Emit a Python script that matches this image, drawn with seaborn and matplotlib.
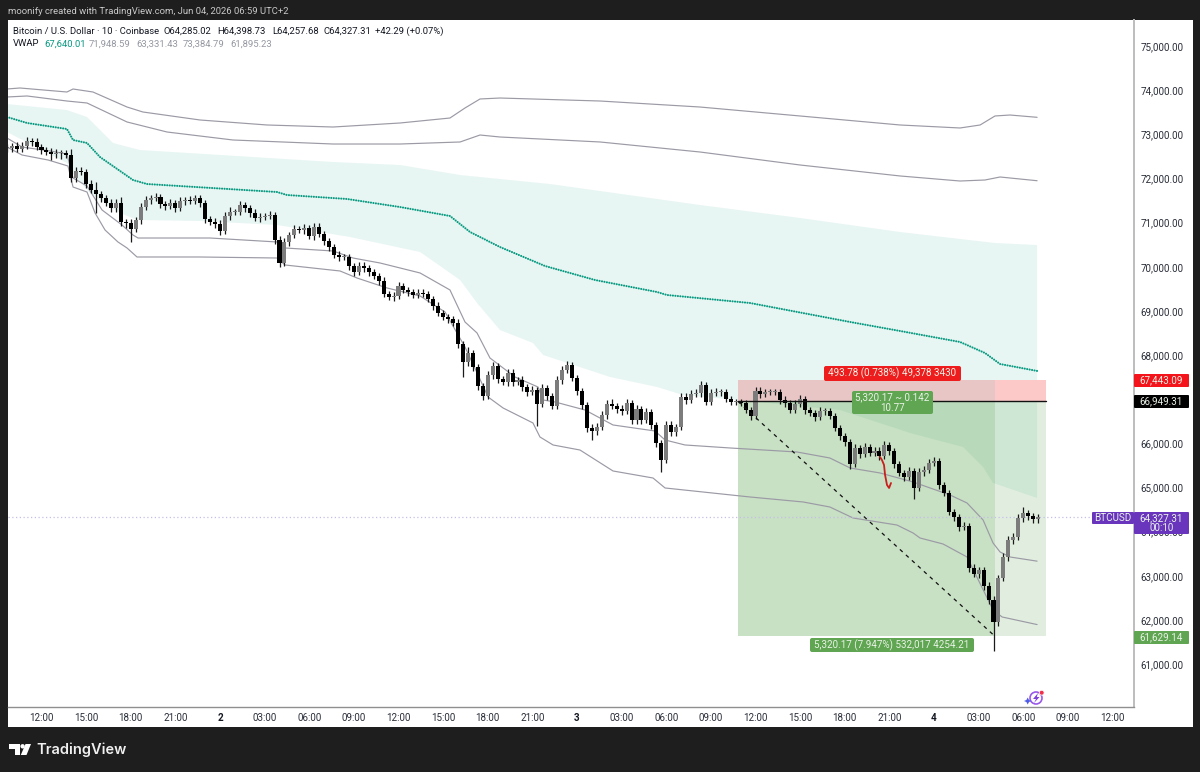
import matplotlib
matplotlib.use("Agg")
import matplotlib.pyplot as plt
from matplotlib.patches import FancyBboxPatch, Rectangle, Circle, Polygon
import numpy as np
import pandas as pd
import seaborn as sns

# BTCUSD closes, one every 20 minutes from Jun 1 09:40
closes = [
    72690, 72735, 72667, 72735, 72848, 72826, 72712, 72644, 72599, 72554,
    72577, 72577, 72531, 72010, 72169, 72146, 71874, 71738, 71648, 71557,
    71444, 71331, 71444, 71014, 70991, 70855, 71059, 71353, 71512, 71557,
    71580, 71421, 71376, 71444, 71331, 71489, 71512, 71489, 71557, 71444,
    71082, 71014, 70968, 70810, 71150, 71240, 71240, 71399, 71331, 71217,
    71104, 71127, 71150, 71172, 70606, 70085, 70561, 70719, 70855, 70832,
    70878, 70696, 70900, 70742, 70583, 70447, 70266, 70221, 70221, 70017,
    69881, 70017, 69972, 69881, 69790, 69677, 69383, 69315, 69338, 69564,
    69473, 69428, 69360, 69405, 69383, 69270, 69111, 68953, 68862, 68817,
    68726, 68250, 67843, 68046, 67729, 67299, 67073, 67548, 67752, 67457,
    67389, 67593, 67389, 67435, 67276, 67163, 67208, 66891, 67254, 67073,
    66846, 67435, 67661, 67775, 67480, 67186, 66869, 66348, 66280, 66370,
    66642, 66891, 66846, 66778, 66733, 66914, 66529, 66778, 66529, 66710,
    66416, 66008, 65623, 66416, 66257, 66370, 67050, 66982, 67118, 67140,
    67322, 66937, 67140, 67163, 67163, 67005, 66937, 66937, 66914, 66755,
    66619, 67186, 67118, 67163, 67163, 67163, 66982, 66914, 66755, 66891,
    67005, 66755, 66688, 66597, 66733, 66733, 66619, 66348, 66167, 66031,
    65532, 65895, 65759, 65917, 65782, 65827, 65714, 65963, 65827, 65532,
    65328, 65238, 65374, 64989, 65351, 65397, 65555, 65600, 65057, 64876,
    64445, 64332, 64105, 64128, 63177, 63041, 63132, 62769, 62452, 61954,
    62950, 63426, 63811, 63879, 64309, 64422, 64355, 64287, 64327,
]
upper_wicks = [
    90, 70, 100, 80, 90, 60, 80, 60, 70, 90,
    80, 70, 60, 130, 90, 80, 70, 90, 180, 60,
    70, 90, 80, 130, 70, 80, 70, 80, 90, 70,
    100, 60, 70, 80, 60, 90, 70, 80, 60, 70,
    70, 60, 80, 90, 100, 110, 70, 90, 60, 70,
    80, 90, 70, 80, 60, 90, 100, 70, 90, 60,
    100, 70, 90, 80, 60, 70, 60, 80, 70, 60,
    70, 90, 80, 60, 70, 60, 80, 70, 90, 80,
    70, 60, 70, 90, 80, 60, 70, 80, 60, 70,
    70, 90, 70, 130, 70, 60, 60, 90, 80, 70,
    70, 100, 80, 70, 90, 70, 90, 60, 100, 70,
    60, 80, 90, 100, 70, 60, 70, 60, 90, 80,
    100, 90, 110, 70, 80, 100, 70, 90, 60, 80,
    60, 70, 60, 90, 100, 70, 90, 80, 100, 90,
    80, 70, 90, 80, 70, 60, 70, 60, 70, 60,
    70, 90, 80, 70, 60, 70, 60, 80, 70, 80,
    90, 60, 70, 60, 90, 70, 60, 60, 70, 60,
    60, 90, 70, 100, 70, 80, 90, 100, 70, 60,
    60, 60, 90, 70, 90, 80, 90, 100, 60, 70,
    60, 70, 60, 80, 60, 80, 70, 70, 80, 90,
    70, 100, 80, 90, 90, 130, 70, 60, 80,
]
lower_wicks = [
    80, 90, 60, 70, 70, 80, 70, 90, 60, 130,
    80, 130, 70, 90, 80, 70, 90, 70, 430, 80,
    70, 90, 80, 90, 110, 300, 70, 90, 60, 80,
    70, 80, 90, 70, 90, 60, 80, 70, 60, 90,
    100, 70, 80, 100, 70, 80, 60, 70, 80, 90,
    70, 80, 70, 60, 90, 100, 70, 80, 60, 70,
    90, 70, 80, 60, 90, 80, 70, 80, 60, 90,
    80, 70, 90, 80, 70, 90, 60, 70, 80, 70,
    60, 80, 70, 60, 70, 60, 80, 70, 60, 80,
    70, 90, 340, 90, 80, 90, 100, 70, 90, 80,
    70, 80, 90, 70, 80, 90, 70, 500, 70, 80,
    70, 70, 80, 60, 70, 80, 90, 90, 200, 90,
    70, 80, 70, 90, 80, 70, 90, 80, 100, 70,
    80, 90, 270, 70, 80, 90, 70, 80, 60, 70,
    80, 70, 60, 70, 80, 70, 60, 70, 60, 70,
    90, 70, 80, 70, 60, 70, 80, 90, 70, 60,
    70, 100, 60, 80, 70, 80, 70, 60, 80, 90,
    110, 70, 90, 70, 80, 70, 90, 60, 80, 90,
    70, 80, 70, 250, 70, 80, 60, 70, 90, 80,
    70, 80, 90, 70, 80, 70, 90, 100, 90, 650,
    90, 70, 80, 90, 70, 80, 90, 100, 80,
]

# Anchored VWAP and its standard deviation bands
vwap_hours = [9.68, 11.03, 13.71, 14.12, 15.06, 15.93, 18.15, 19.09, 27.83, 28.50, 32.54, 36.10, 39.46,
              40.81, 42.82, 45.85, 49.21, 53.38, 54.05, 59.63, 66.36, 69.72, 73.75, 75.43, 76.44, 78.93]
vwap_prices = [73392, 73256, 73120, 72871, 72803, 72486, 71965, 71874, 71693, 71625, 71535, 71353, 71150,
               70787, 70447, 70017, 69700, 69428, 69360, 69179, 68749, 68545, 68296, 68046, 67797, 67640.01]

upper2_hours = [9.68, 10.55, 13.71, 14.12, 15.46, 17.75, 18.82, 22.66, 27.16, 31.60, 36.10, 39.46,
                40.47, 41.48, 42.82, 49.55, 56.27, 62.99, 69.72, 73.75, 75.10, 76.10, 77.11, 78.93]
upper2_prices = [74026, 74049, 73958, 74026, 73958, 73618, 73505, 73324, 73211, 73165, 73256, 73369,
                 73596, 73800, 73822, 73754, 73618, 73415, 73211, 73143, 73211, 73415, 73437, 73384.79]

upper1_hours = [9.68, 11.03, 13.71, 15.06, 17.75, 20.44, 24.87, 31.60, 36.10, 40.14, 41.48, 42.82,
                49.55, 56.27, 62.99, 69.72, 73.75, 75.43, 76.44, 78.93]
upper1_prices = [73845, 73868, 73754, 73709, 73279, 73052, 72871, 72780, 72780, 72826, 72984, 72939,
                 72826, 72599, 72305, 72056, 71942, 71965, 72033, 71948.59]

lower1_hours = [9.68, 10.69, 12.57, 13.71, 14.12, 15.06, 16.07, 17.41, 18.15, 18.49, 23.33, 27.83, 28.37,
                31.60, 32.94, 34.76, 37.45, 39.46, 40.47, 41.28, 42.15, 43.83, 45.38, 45.72, 46.52, 48.54,
                50.42, 53.24, 53.92, 55.26, 58.29, 62.79, 65.00, 66.36, 68.37, 70.59, 73.08, 74.22, 75.30,
                75.97, 76.44, 77.11, 78.93]
lower1_prices = [72916, 72712, 72622, 72554, 72010, 71829, 71286, 70946, 70719, 70651, 70651, 70561, 70425,
                 70357, 70198, 70085, 69859, 69474, 68749, 68500, 67933, 67503, 67276, 66982, 66937, 66755,
                 66416, 66280, 66076, 65963, 65895, 65804, 65668, 65442, 65329, 65125, 64830, 64649, 64264,
                 63743, 63540, 63426, 63331.43]

lower2_hours = [9.68, 10.69, 12.44, 13.78, 14.12, 15.06, 15.60, 16.27, 17.14, 17.75, 18.42, 22.66, 27.83,
                28.37, 32.07, 33.21, 35.23, 37.45, 39.13, 40.47, 41.35, 42.02, 43.03, 45.04, 45.51, 46.39,
                48.20, 50.42, 53.11, 53.92, 59.63, 63.20, 65.00, 66.56, 69.51, 70.59, 71.06, 72.61, 74.22,
                75.97, 76.58, 78.93]
lower2_prices = [72712, 72531, 72418, 72282, 71806, 71693, 71218, 70833, 70561, 70425, 70221, 70221, 70198,
                 70040, 69904, 69745, 69519, 69338, 68974, 68182, 67548, 67050, 66801, 66461, 66144, 65963,
                 65849, 65374, 65215, 64989, 64785, 64672, 64558, 64309, 64150, 63970, 63856, 63720, 63426,
                 62226, 62067, 61895.23]

# Shaded channel around the VWAP
channel_top_hours = [9.68, 13.71, 15.06, 16.81, 18.62, 31.60, 36.10, 40.14, 46.19, 56.27, 62.99, 69.72, 76.10, 78.93]
channel_top_prices = [73686, 73550, 73392, 72803, 72645, 72373, 72305, 72078, 71874, 71399, 71105, 70787, 70538, 70492]
channel_bottom_hours = [9.68, 13.71, 14.05, 15.26, 17.28, 18.42, 22.66, 27.83, 32.74, 37.45, 40.14, 41.28, 42.82,
                        45.04, 45.72, 50.22, 53.38, 55.13, 58.82, 65.68, 70.39, 73.95, 75.30, 75.97, 78.93]
channel_bottom_prices = [73052, 72350, 72124, 71670, 71218, 71059, 71036, 70946, 70674, 70334, 69700, 69179, 68567,
                         68273, 68001, 67503, 67276, 67095, 66982, 66755, 66235, 65917, 65464, 65102, 64762]

# Short position drawing
trade_start, trade_hit, trade_end = 58.82, 76.10, 79.53
stop_price, entry_price, target_price = 67443.09, 66949.31, 61629.14
last_price = 64327.31

# Freehand projection in red
sketch_hours = [68.37, 68.50, 68.64, 68.71, 68.84, 68.98, 69.11]
sketch_prices = [65692, 65623, 65510, 65283, 65057, 64989, 65102]

price_ticks = list(range(61000, 76000, 1000))
hour_ticks = list(range(12, 87, 3))
day_labels = {24: "2", 48: "3", 72: "4"}

header_text = "moonify created with TradingView.com, Jun 04, 2026 06:59 UTC+2"
symbol_text = "Bitcoin / U.S. Dollar · 10 · Coinbase"
ohlc_texts = ["O64,285.02", "H64,398.73", "L64,257.68", "C64,327.31", "+42.29 (+0.07%)"]
vwap_texts = ["67,640.01", "71,948.59", "63,331.43", "73,384.79", "61,895.23"]

sns.set_theme(style="white")
plt.rcParams["font.family"] = ["Roboto", "DejaVu Sans"]

W, H = 1200, 772
DARK, INK = "#1e1e1e", "#131722"
BAND, TEAL = "#9b9aa5", "#089981"
TEXT_SIZE = 7.1
LEGEND_SIZE = 6.8
X_MIN, X_MAX = 9.748, 85.445

fig = plt.figure(figsize=(W / 100, H / 100), dpi=100, facecolor=DARK)


def frac_axes(x0, y0, x1, y1, **kw):
    return fig.add_axes([x0 / W, 1 - y1 / H, (x1 - x0) / W, (y1 - y0) / H], **kw)


def span(h):
    return (h - X_MIN) / (X_MAX - X_MIN)


# White panel behind the chart and both scales
back = fig.add_axes([0, 0, 1, 1], zorder=0)
back.set_xlim(0, W)
back.set_ylim(H, 0)
back.axis("off")
back.add_patch(Rectangle((8, 20), 1185, 707, fc="white", ec="none"))

ax = frac_axes(8, 20, 1134, 707, zorder=1, facecolor="white")
ax.set_xlim(X_MIN, X_MAX)
ax.set_ylim(60028, 75589)

bars = pd.DataFrame({"close": closes, "up": upper_wicks, "down": lower_wicks})
bars["hour"] = 9 + 2 / 3 + bars.index / 3
bars["open"] = bars["close"].shift(1).fillna(bars["close"])
bars["top"] = bars[["open", "close"]].max(axis=1)
bars["bottom"] = bars[["open", "close"]].min(axis=1)
bars["high"] = bars["top"] + bars["up"]
bars["low"] = bars["bottom"] - bars["down"]
bars["body"] = (bars["top"] - bars["bottom"]).clip(lower=30)
rising = bars["close"] >= bars["open"]

# Channel under everything else
ax.fill(channel_top_hours + channel_bottom_hours[::-1],
        channel_top_prices + channel_bottom_prices[::-1],
        color="#e8f6f3", lw=0, zorder=1)

# Risk and reward boxes; the part past the exit is paler
ax.axhspan(stop_price, entry_price, xmin=span(trade_start), xmax=span(trade_hit),
           fc="#e8c6c6", lw=0, zorder=1.5)
ax.axhspan(stop_price, entry_price, xmin=span(trade_hit), xmax=span(trade_end),
           fc="#fcc8c8", lw=0, zorder=1.5)
ax.axhspan(entry_price, target_price, xmin=span(trade_start), xmax=span(trade_hit),
           fc="#4a9a3c", alpha=0.30, lw=0, zorder=1.5)
ax.axhspan(entry_price, target_price, xmin=span(trade_hit), xmax=span(trade_end),
           fc="#4a9a3c", alpha=0.16, lw=0, zorder=1.5)

# Band lines and the dotted VWAP
for hrs, vals in [(upper2_hours, upper2_prices), (upper1_hours, upper1_prices),
                  (lower1_hours, lower1_prices), (lower2_hours, lower2_prices)]:
    sns.lineplot(x=hrs, y=vals, ax=ax, color=BAND, lw=0.85, estimator=None, sort=False, zorder=2)
sns.lineplot(x=vwap_hours, y=vwap_prices, ax=ax, color=TEAL, lw=1.55, estimator=None, sort=False, zorder=2.2,
             linestyle=(0, (0.01, 1.15)), dash_capstyle="round")

# Last price marker line
ax.axhline(last_price, color="#c5bfe6", lw=0.9, ls=(0, (1, 2)), zorder=2)

# Candles
ax.vlines(bars["hour"], bars["low"], bars["high"], color="#1a1a1a", lw=0.9, zorder=3)
ax.bar(bars["hour"][rising], bars["body"][rising], bottom=bars["bottom"][rising],
       width=0.27, color="#7c7c7c", lw=0, zorder=3.1)
ax.bar(bars["hour"][~rising], bars["body"][~rising], bottom=bars["bottom"][~rising],
       width=0.27, color="#000000", lw=0, zorder=3.2)

# Trade lines
ax.plot([trade_start, trade_end], [entry_price, entry_price], color="#111111", lw=1.0, zorder=3.5)
ax.plot([trade_start, trade_hit], [entry_price, target_price], color="#111111", lw=0.9,
        ls=(0, (3, 3.5)), zorder=3.5)
sns.lineplot(x=sketch_hours, y=sketch_prices, ax=ax, color="#c8201c", lw=1.3, estimator=None, sort=False, zorder=4)

# Time and price scales
ax.set_xticks(hour_ticks)
ax.set_xticklabels([day_labels.get(h, f"{h % 24:02d}:00") for h in hour_ticks], fontsize=TEXT_SIZE, color="#2a2e39")
for lbl, h in zip(ax.get_xticklabels(), hour_ticks):
    if h in day_labels:
        lbl.set_fontweight("bold")
        lbl.set_color(INK)
ax.yaxis.tick_right()
ax.set_yticks(price_ticks)
ax.set_yticklabels([f"{p:,.2f}" for p in price_ticks], fontsize=TEXT_SIZE, color="#2a2e39")
ax.tick_params(axis="both", length=0)
ax.tick_params(axis="y", pad=4.5)
ax.tick_params(axis="x", pad=4.5)
for side in ("top", "left"):
    ax.spines[side].set_visible(False)
ax.spines["bottom"].set_color("#8f8f8f")
ax.spines["right"].set_color("#bdbdbd")
ax.spines["bottom"].set_linewidth(1.0)
ax.spines["right"].set_linewidth(1.4)
ax.set_xlabel("")
ax.set_ylabel("")

# Header, legend, tags and logo sit on a pixel-scaled overlay
top = fig.add_axes([0, 0, 1, 1], zorder=2, facecolor="none")
top.set_xlim(0, W)
top.set_ylim(H, 0)
top.axis("off")


def put(x, y, s, color=INK, size=LEGEND_SIZE, ha="left", weight="normal"):
    top.text(x, y, s, color=color, fontsize=size, ha=ha, va="center", fontweight=weight)


def tag(x0, y0, x1, y1, color, lines, round_px=2.0):
    top.add_patch(FancyBboxPatch((x0 + round_px, y0 + round_px), x1 - x0 - 2 * round_px, y1 - y0 - 2 * round_px,
                                 boxstyle=f"round,pad={round_px},rounding_size={round_px}", fc=color, ec="none"))
    top.text((x0 + x1) / 2, (y0 + y1) / 2, lines, color="#e9f2e6", fontsize=TEXT_SIZE, ha="center", va="center",
             linespacing=1.05)


put(8, 11, header_text, color="#c9c9c9")
put(13, 31, symbol_text)
for xpos, s in zip([163, 217, 272, 324, 375], ohlc_texts):
    put(xpos, 31, s)
put(13, 44, "VWAP")
for xpos, s, c in zip([44, 89, 136, 183, 230], vwap_texts, [TEAL, "#9598a1", "#9598a1", "#9598a1", "#9598a1"]):
    put(xpos, 44, s, color=c)

tag(824, 366, 961, 381, "#ee1c1c", "493.78 (0.738%) 49,378 3430")
tag(852, 391, 933, 414, "#5fa552", "5,320.17 ~ 0.142\n10.77")
tag(810, 638, 974, 652, "#5fa552", "5,320.17 (7.947%) 532,017 4254.21")
tag(1134, 374, 1189, 387, "#f4141c", "67,443.09", round_px=1)
tag(1134, 395, 1189, 408, "#000000", "66,949.31", round_px=1)
tag(1134, 631, 1189, 644, "#5fa552", "61,629.14", round_px=1)
tag(1092, 512, 1134, 524, "#6a35bd", "BTCUSD", round_px=1)
tag(1134, 512, 1189, 534, "#6a35bd", "64,327.31\n00:10", round_px=1)

# Alert badge near the time scale
top.add_patch(Circle((1036, 698), 6, fc="none", ec="#9b59e8", lw=1.2))
top.add_patch(Polygon([(1038, 693), (1033, 699), (1036, 699), (1034, 703), (1039.5, 697), (1036.8, 697)],
                      fc="#7f3fd8", ec="none"))
top.add_patch(Circle((1041.7, 692.7), 2.4, fc="#f0304a", ec="white", lw=0.5))
top.add_patch(Polygon([(1027.7, 697.5), (1029, 700), (1031.5, 701), (1029, 702), (1027.7, 704.5),
                       (1026.4, 702), (1024, 701), (1026.4, 700)], fc="#4e5be8", ec="none"))

# TradingView wordmark
top.add_patch(Polygon([(9, 744), (20, 744), (20, 755), (14.5, 755), (14.5, 749), (9, 749)], fc="white", ec="none"))
top.add_patch(Circle((22.6, 746.3), 2.2, fc="white", ec="none"))
top.add_patch(Polygon([(25.5, 744), (31, 744), (26.5, 755), (20.8, 755)], fc="white", ec="none"))
top.text(36, 750, "TradingView", color="#f0f0f0", fontsize=10.5, fontweight="semibold", family="Inter",
         ha="left", va="center")

fig.savefig("out.png", dpi=100, facecolor=DARK)
